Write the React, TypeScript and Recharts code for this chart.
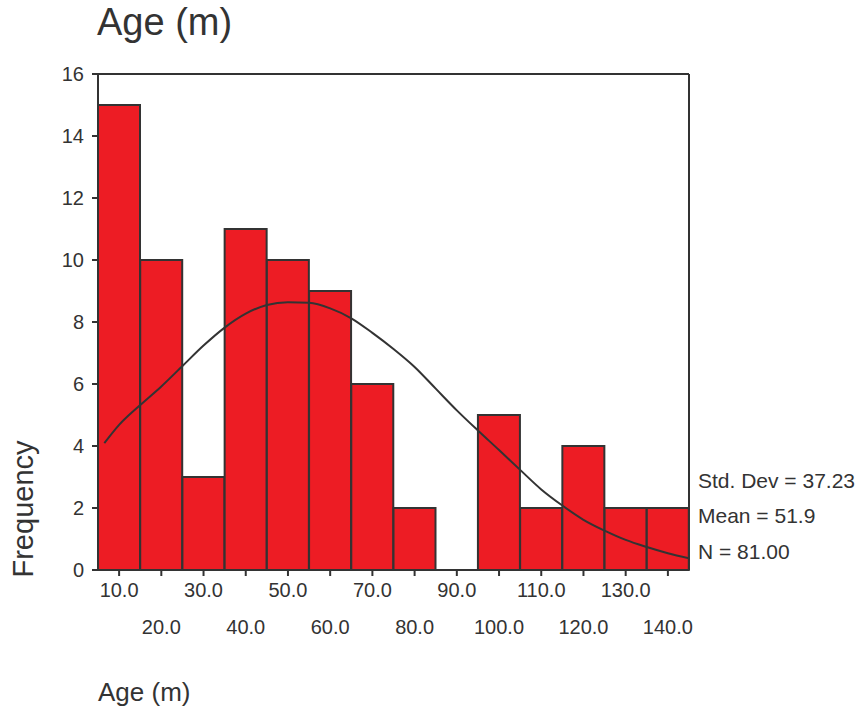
import React from "react";
import {
  ComposedChart,
  Bar,
  Line,
  XAxis,
  YAxis,
  ReferenceLine,
} from "recharts";

// histogram bins (centre labels) and counts
const binLabels = [
  "10.0", "20.0", "30.0", "40.0", "50.0", "60.0", "70.0",
  "80.0", "90.0", "100.0", "110.0", "120.0", "130.0", "140.0",
];
const binCounts = [15, 10, 3, 11, 10, 9, 6, 2, 0, 5, 2, 4, 2, 2];

// normal curve
const curveX = [
  6.5, 10, 15, 20, 25, 30, 35, 40, 45, 50, 55, 60, 65, 70, 75,
  80, 85, 90, 95, 100, 105, 110, 115, 120, 125, 130, 135, 140, 145,
];
const curveY = [
  4.09, 4.68, 5.32, 5.92, 6.58, 7.24, 7.82, 8.27, 8.55, 8.64, 8.62, 8.44,
  8.12, 7.65, 7.13, 6.55, 5.85, 5.15, 4.5, 3.87, 3.23, 2.6, 2.08, 1.62, 1.27,
  0.97, 0.74, 0.54, 0.38,
];

const yTicks = [0, 2, 4, 6, 8, 10, 12, 14, 16];
const statLines = ["Std. Dev = 37.23", "Mean = 51.9", "N = 81.00"];

const bins = binLabels.map((label, i) => ({ label, count: binCounts[i] }));
const curve = curveX.map((x, i) => ({ x, f: curveY[i] }));

const FONT = "'Liberation Sans', Arial, Helvetica, sans-serif";
const INK = "#333333";

const BinTick = (props: any) => {
  const { x, y, payload, index } = props;
  return (
    <text
      x={x}
      y={y + (index % 2 === 0 ? 21 : 58)}
      textAnchor="middle"
      fill={INK}
      fontSize={20}
      fontFamily={FONT}
    >
      {payload.value}
    </text>
  );
};

export default function App() {
  return (
    <div style={{ position: "absolute", left: 0, top: 0, width: 860, height: 711, background: "#fff" }}>
      <ComposedChart
        width={860}
        height={711}
        data={bins}
        margin={{ top: 74, right: 171, left: 0, bottom: 81 }}
        barCategoryGap={0}
        barGap={0}
      >
        <XAxis
          xAxisId="bin"
          dataKey="label"
          type="category"
          interval={0}
          height={60}
          tickSize={6}
          tickMargin={0}
          stroke={INK}
          strokeWidth={2}
          tick={<BinTick />}
        />
        <XAxis
          xAxisId="num"
          type="number"
          dataKey="x"
          domain={[5, 145]}
          allowDataOverflow
          hide
        />
        <YAxis
          width={98}
          domain={[0, 16]}
          ticks={yTicks}
          interval={0}
          tickSize={6}
          tickMargin={8}
          stroke={INK}
          strokeWidth={2}
          tick={{ fill: INK, fontSize: 20, fontFamily: FONT }}
        />
        <ReferenceLine xAxisId="num" y={16} stroke={INK} strokeWidth={2} />
        <ReferenceLine xAxisId="num" x={145} stroke={INK} strokeWidth={2} />
        <Bar
          xAxisId="bin"
          dataKey="count"
          fill="#ED1C24"
          stroke={INK}
          strokeWidth={2}
          isAnimationActive={false}
        />
        <Line
          xAxisId="num"
          data={curve}
          dataKey="f"
          type="monotone"
          stroke={INK}
          strokeWidth={2}
          dot={false}
          isAnimationActive={false}
        />
      </ComposedChart>
      <svg
        width={860}
        height={711}
        style={{ position: "absolute", left: 0, top: 0, pointerEvents: "none" }}
      >
        <g fill={INK} fontFamily={FONT}>
          <text x={97} y={35} fontSize={38}>Age (m)</text>
          <text
            x={33}
            y={509}
            fontSize={29}
            textAnchor="middle"
            transform="rotate(-90 33 509)"
          >
            Frequency
          </text>
          <text x={98} y={701} fontSize={26}>Age (m)</text>
          {statLines.map((s, i) => (
            <text key={s} x={698} y={[488, 523, 559][i]} fontSize={21}>
              {s}
            </text>
          ))}
        </g>
      </svg>
    </div>
  );
}
